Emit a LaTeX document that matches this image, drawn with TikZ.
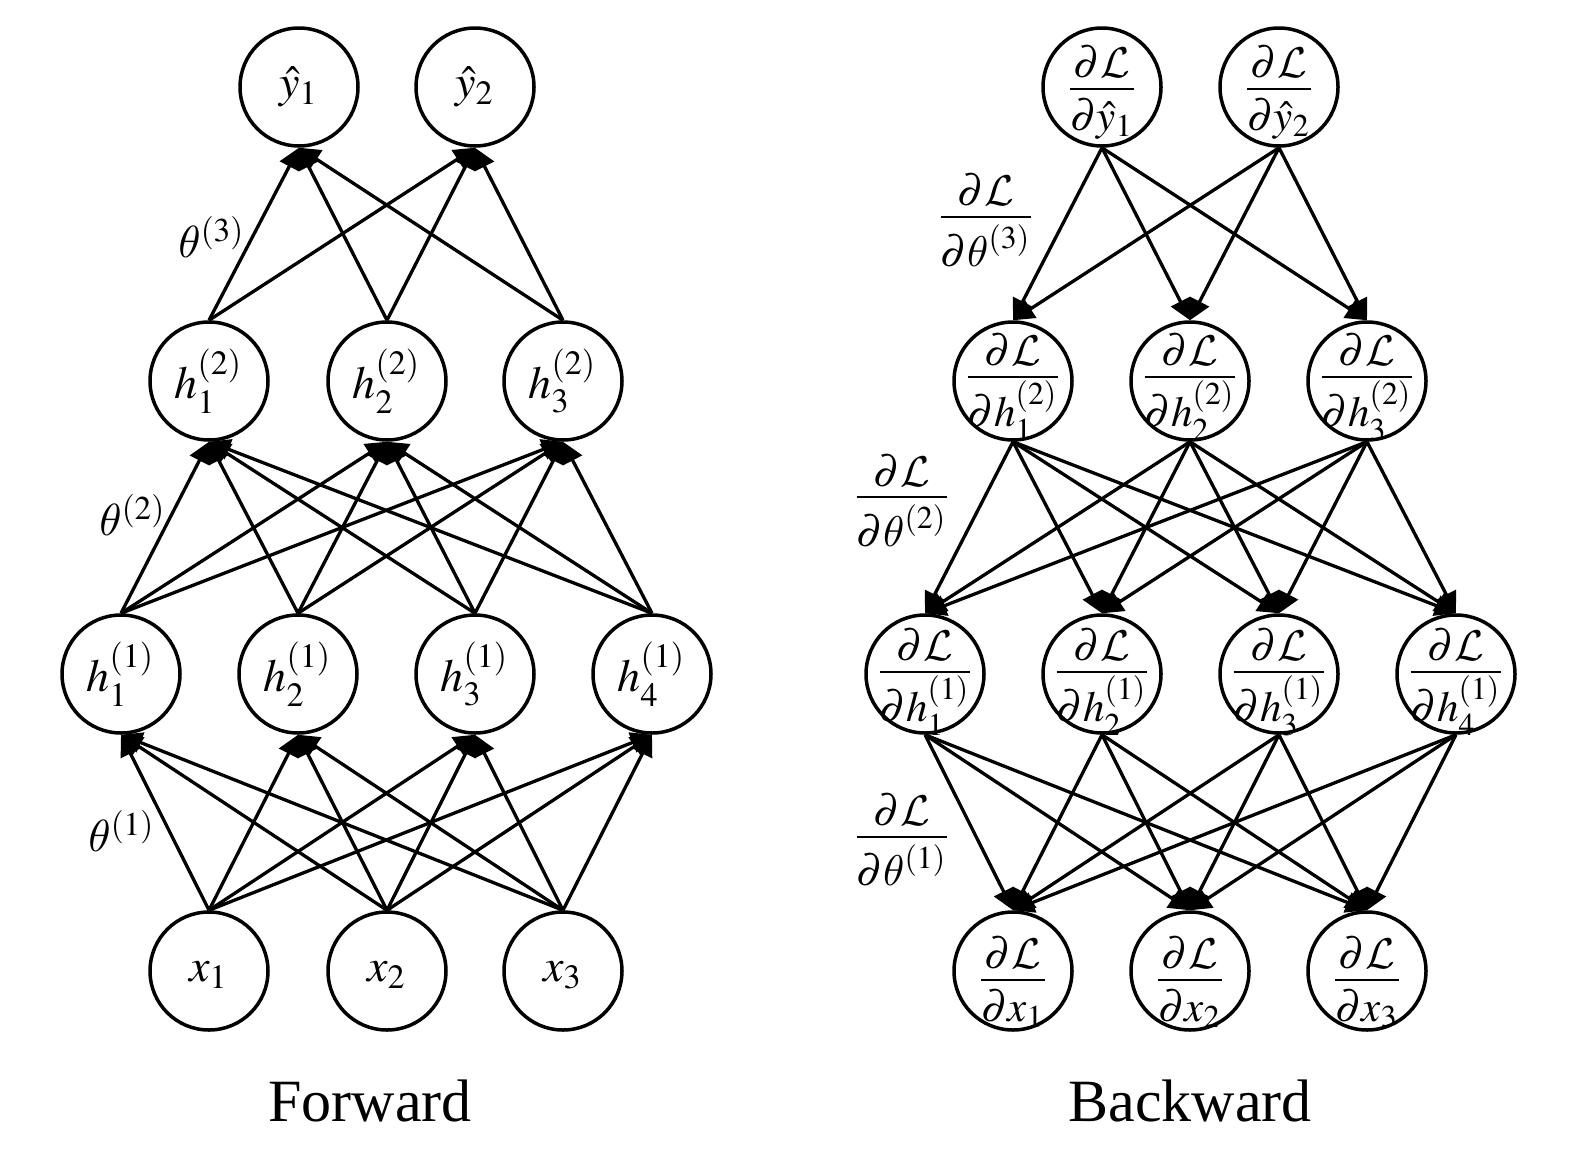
\documentclass[tikz,border=0pt]{standalone}
\usepackage{mathptmx}
\DeclareMathAlphabet{\mathcal}{OMS}{cmsy}{m}{n}
\DeclareSymbolFont{cmletters}{OML}{cmm}{m}{it}
\DeclareMathSymbol{\theta}{\mathord}{cmletters}{"12}
\usepackage{fontspec}
\setmainfont{Liberation Serif}
\usetikzlibrary{arrows.meta}
\newcommand{\fwm}[1]{\scalebox{4.6}{$#1$}}
\newcommand{\bwm}[3][9pt]{\scalebox{4.3}{$\textstyle\frac{\displaystyle #2\rule[-2pt]{0pt}{2pt}}{\displaystyle\rule{0pt}{#1}#3}$}}
\newcommand{\thm}[1]{\scalebox{4.5}{$#1$}}
\begin{document}
\begin{tikzpicture}[x=1pt,y=-1pt,
  neuron/.style={circle, draw, line width=3.5pt, minimum size=118pt, inner sep=0pt},
  ntext/.style={inner sep=0pt},
  btext/.style={inner sep=0pt, anchor=base},
  conn/.style={-{Triangle[length=21pt,width=21pt]}, line width=3.3pt},
  lbl/.style={inner sep=0pt},
  title/.style={inner sep=0pt, font=\fontsize{60}{66}\selectfont}]
\useasboundingbox (0,0) rectangle (1572,1154);
% ---------- Forward ----------
\node[neuron] (fy1) at (299,87) {};
\node[neuron] (fy2) at (475,87) {};
\node[neuron] (fb1) at (209,381) {};
\node[neuron] (fb2) at (387,381) {};
\node[neuron] (fb3) at (563,381) {};
\node[neuron] (fa1) at (121,674) {};
\node[neuron] (fa2) at (298,674) {};
\node[neuron] (fa3) at (475,674) {};
\node[neuron] (fa4) at (652,674) {};
\node[neuron] (fx1) at (209,971) {};
\node[neuron] (fx2) at (387,971) {};
\node[neuron] (fx3) at (563,971) {};
\node[ntext] (fy1t) at (fy1) {\fwm{\hat{y}_1}};
\node[ntext] (fy2t) at (fy2) {\fwm{\hat{y}_2}};
\node[ntext] (fb1t) at (fb1) {\fwm{h^{(2)}_1}};
\node[ntext] (fb2t) at (fb2) {\fwm{h^{(2)}_2}};
\node[ntext] (fb3t) at (fb3) {\fwm{h^{(2)}_3}};
\node[ntext] (fa1t) at (fa1) {\fwm{h^{(1)}_1}};
\node[ntext] (fa2t) at (fa2) {\fwm{h^{(1)}_2}};
\node[ntext] (fa3t) at (fa3) {\fwm{h^{(1)}_3}};
\node[ntext] (fa4t) at (fa4) {\fwm{h^{(1)}_4}};
\node[ntext] (fx1t) at ([yshift=-4pt]fx1.center) {\fwm{x_1}};
\node[ntext] (fx2t) at ([yshift=-4pt]fx2.center) {\fwm{x_2}};
\node[ntext] (fx3t) at ([yshift=-4pt]fx3.center) {\fwm{x_3}};
\foreach \s in {fx1,fx2,fx3}
  \foreach \t in {fa1,fa2,fa3,fa4}
    \draw[conn] (\s.north) -- (\t.south);
\foreach \s in {fa1,fa2,fa3,fa4}
  \foreach \t in {fb1,fb2,fb3}
    \draw[conn] (\s.north) -- (\t.south);
\foreach \s in {fb1,fb2,fb3}
  \foreach \t in {fy1,fy2}
    \draw[conn] (\s.north) -- (\t.south);
\node[lbl] (t3) at (212,237) {\thm{\theta^{(3)}}};
\node[lbl] (t2) at (133,515) {\thm{\theta^{(2)}}};
\node[lbl] (t1) at (122,831) {\thm{\theta^{(1)}}};
\node[title] (ftitle) at (370,1101) {Forward};
% ---------- Backward ----------
\node[neuron] (by1) at (1102,87) {};
\node[neuron] (by2) at (1279,87) {};
\node[neuron] (bb1) at (1013,381) {};
\node[neuron] (bb2) at (1190,381) {};
\node[neuron] (bb3) at (1367,381) {};
\node[neuron] (ba1) at (925,674) {};
\node[neuron] (ba2) at (1102,674) {};
\node[neuron] (ba3) at (1279,674) {};
\node[neuron] (ba4) at (1456,674) {};
\node[neuron] (bx1) at (1013,971) {};
\node[neuron] (bx2) at (1190,971) {};
\node[neuron] (bx3) at (1367,971) {};
\node[btext] (by1t) at ([yshift=-12.75pt]by1.center) {\bwm{\partial\mathcal{L}}{\partial\hat{y}_1}};
\node[btext] (by2t) at ([yshift=-12.75pt]by2.center) {\bwm{\partial\mathcal{L}}{\partial\hat{y}_2}};
\node[btext] (bb1t) at ([yshift=-6.75pt]bb1.center) {\bwm[11pt]{\partial\mathcal{L}}{\partial h^{(2)}_1}};
\node[btext] (bb2t) at ([yshift=-6.75pt]bb2.center) {\bwm[11pt]{\partial\mathcal{L}}{\partial h^{(2)}_2}};
\node[btext] (bb3t) at ([yshift=-6.75pt]bb3.center) {\bwm[11pt]{\partial\mathcal{L}}{\partial h^{(2)}_3}};
\node[btext] (ba1t) at ([yshift=-8.75pt]ba1.center) {\bwm[11pt]{\partial\mathcal{L}}{\partial h^{(1)}_1}};
\node[btext] (ba2t) at ([yshift=-8.75pt]ba2.center) {\bwm[11pt]{\partial\mathcal{L}}{\partial h^{(1)}_2}};
\node[btext] (ba3t) at ([yshift=-8.75pt]ba3.center) {\bwm[11pt]{\partial\mathcal{L}}{\partial h^{(1)}_3}};
\node[btext] (ba4t) at ([yshift=-8.75pt]ba4.center) {\bwm[11pt]{\partial\mathcal{L}}{\partial h^{(1)}_4}};
\node[btext] (bx1t) at ([yshift=-19.75pt]bx1.center) {\bwm{\partial\mathcal{L}}{\partial x_1}};
\node[btext] (bx2t) at ([yshift=-19.75pt]bx2.center) {\bwm{\partial\mathcal{L}}{\partial x_2}};
\node[btext] (bx3t) at ([yshift=-19.75pt]bx3.center) {\bwm{\partial\mathcal{L}}{\partial x_3}};
\foreach \s in {by1,by2}
  \foreach \t in {bb1,bb2,bb3}
    \draw[conn] (\s.south) -- (\t.north);
\foreach \s in {bb1,bb2,bb3}
  \foreach \t in {ba1,ba2,ba3,ba4}
    \draw[conn] (\s.south) -- (\t.north);
\foreach \s in {ba1,ba2,ba3,ba4}
  \foreach \t in {bx1,bx2,bx3}
    \draw[conn] (\s.south) -- (\t.north);
\node[btext] (g3) at (986,227.75) {\bwm[10.8pt]{\partial\mathcal{L}}{\partial\theta^{(3)}}};
\node[btext] (g2) at (902,508) {\bwm[10.8pt]{\partial\mathcal{L}}{\partial\theta^{(2)}}};
\node[btext] (g1) at (902,847.5) {\bwm[10.8pt]{\partial\mathcal{L}}{\partial\theta^{(1)}}};
\node[title] (btitle) at (1190,1101) {Backward};
\end{tikzpicture}
\end{document}
